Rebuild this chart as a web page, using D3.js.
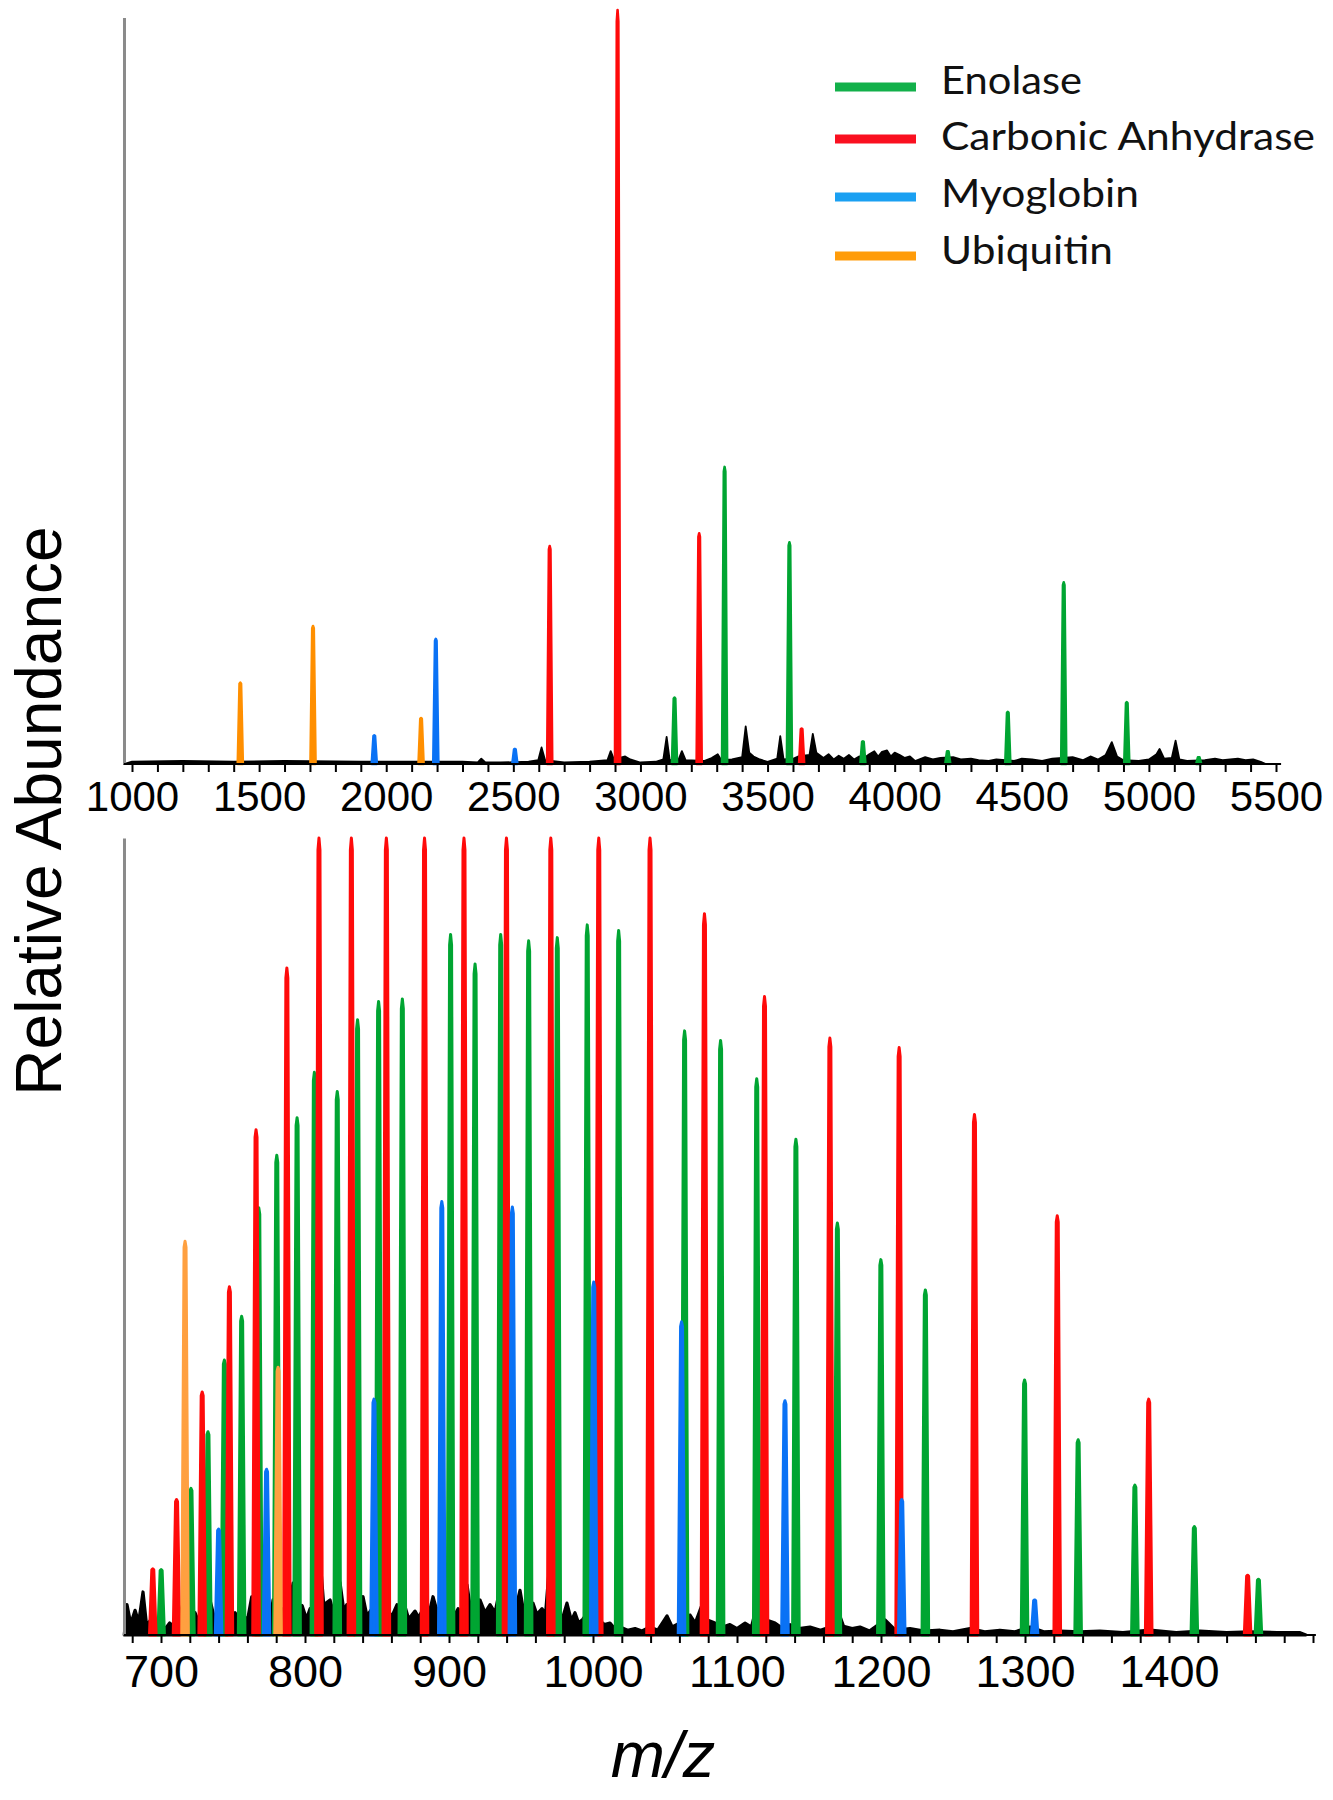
<!DOCTYPE html>
<html>
<head>
<meta charset="utf-8">
<script src="https://cdn.jsdelivr.net/npm/d3@7"></script>
<style>
  html, body { margin: 0; padding: 0; background: #fff; }
  svg { display: block; }
</style>
</head>
<body>
<svg id="chart" width="1333" height="1800"></svg>
<script>
// ---------------- DATA ----------------
const legendNames = ["Enolase", "Carbonic Anhydrase", "Myoglobin", "Ubiquitin"];
const topTickLabels = [1000, 1500, 2000, 2500, 3000, 3500, 4000, 4500, 5000, 5500];
const bottomTickLabels = [700, 800, 900, 1000, 1100, 1200, 1300, 1400];

// Top panel peaks: [m/z, relative abundance %]
const enolaseTop   = [[3134, 8.8], [3331, 39.4], [3586, 29.4], [3875, 3.0], [4209, 1.7], [4445, 6.9], [4665, 24.1], [4913, 8.2], [5196, 0.9]];
const carbonicTop  = [[2643, 28.9], [2910, 100], [3231, 30.6], [3634, 4.7]];
const myoglobinTop = [[1953, 3.8], [2195, 16.6], [2506, 2.0]];
const ubiquitinTop = [[1426, 10.8], [1712, 18.3], [2137, 6.1]];
const noiseTop = [
  [968, 0], [1000, 0.3], [1200, 0.4], [1400, 0.3], [1600, 0.4], [1900, 0.3], [2100, 0.3], [2300, 0.3],
  [2360, 0.2], [2374, 0.7], [2390, 0.2], [2450, 0.2], [2560, 0.3], [2598, 0.5], [2611, 2.2], [2625, 0.5],
  [2700, 0.2], [2800, 0.3], [2870, 0.5], [2883, 1.7], [2896, 0.6], [2940, 1.0], [2960, 0.6], [3000, 0.2],
  [3060, 0.3], [3090, 0.6], [3103, 3.6], [3115, 0.5], [3150, 0.6], [3163, 1.7], [3178, 0.5], [3250, 0.4],
  [3280, 0.8], [3304, 1.3], [3318, 0.5], [3360, 0.6], [3400, 0.9], [3414, 5.0], [3428, 1.5], [3445, 1.0],
  [3470, 0.6], [3500, 0.3], [3538, 0.7], [3550, 3.7], [3563, 0.6], [3600, 0.7], [3620, 1.0], [3665, 1.2],
  [3678, 4.0], [3692, 1.5], [3720, 0.8], [3740, 1.3], [3760, 0.6], [3780, 1.1], [3800, 0.7], [3820, 1.2],
  [3840, 0.6], [3860, 1.0], [3880, 0.8], [3900, 1.3], [3920, 1.7], [3935, 1.0], [3950, 1.6], [3970, 1.8],
  [3985, 1.0], [4000, 1.5], [4020, 1.2], [4040, 0.8], [4060, 1.0], [4080, 0.4], [4120, 0.9], [4150, 0.6],
  [4180, 0.8], [4230, 0.9], [4260, 0.6], [4300, 0.7], [4330, 0.5], [4370, 0.4], [4400, 0.6], [4470, 0.4],
  [4500, 0.7], [4540, 0.6], [4580, 0.4], [4620, 0.7], [4700, 0.9], [4740, 0.5], [4770, 1.0], [4800, 0.6],
  [4830, 1.2], [4854, 2.9], [4875, 1.0], [4900, 0.5], [4960, 0.4], [5000, 0.6], [5030, 1.3], [5042, 2.0],
  [5060, 0.7], [5090, 0.8], [5105, 3.1], [5120, 0.6], [5150, 0.4], [5220, 0.5], [5260, 0.7], [5290, 0.5],
  [5320, 0.6], [5350, 0.7], [5380, 0.5], [5410, 0.6], [5440, 0.3], [5460, 0]
];

// Bottom panel peaks: [m/z, relative abundance %] (100 = off scale)
const enolaseBottom = [
  [700.1, 8.2], [720.8, 18.4], [732.6, 25.5], [744.0, 34.5], [756.0, 40.0], [767.9, 53.6], [780.4, 60.2],
  [794.5, 64.9], [806.5, 70.6], [822.4, 68.2], [836.5, 77.2], [851.1, 79.5], [867.6, 79.8], [901.1, 87.9],
  [918.1, 84.2], [935.9, 87.9], [955.3, 87.1], [975.2, 87.5], [996.0, 89.1], [1017.8, 88.4], [1063.6, 75.8],
  [1088.6, 74.6], [1113.7, 69.8], [1140.9, 62.2], [1169.7, 51.7], [1199.9, 47.1], [1230.8, 43.3],
  [1299.7, 32.0], [1336.9, 24.5], [1376.3, 18.8], [1417.6, 13.6], [1462.1, 7.0]
];
const carbonicBottom = [
  [694.3, 8.3], [710.8, 17.0], [728.6, 30.5], [747.5, 43.7], [766.0, 63.4], [787.4, 83.7], [809.7, 100],
  [832.2, 100], [856.5, 100], [883.0, 100], [910.4, 100], [939.9, 100], [970.7, 100], [1004.0, 100],
  [1039.6, 100], [1077.4, 90.5], [1119.1, 80.1], [1164.5, 74.9], [1212.6, 73.7], [1264.9, 65.3],
  [1322.4, 52.6], [1385.9, 29.6], [1454.6, 7.5]
];
const myoglobinBottom = [
  [740.0, 13.3], [773.3, 20.8], [847.9, 29.6], [895.0, 54.4], [944.0, 53.7], [1000.5, 44.3],
  [1061.5, 39.3], [1133.3, 29.4], [1214.4, 17.0], [1306.7, 4.4]
];
const ubiquitinBottom = [[716.7, 49.4], [781.3, 33.6]];
const noiseBottom = [
  [674.5, 0], [676.4, 3.8], [679, 1.4], [682, 3.1], [684.5, 1.6], [687.5, 5.4], [690, 1.2], [692.4, 1.8],
  [695, 0.9], [699.3, 1.6], [703, 0.8], [706, 1.5], [709, 1.0], [711.8, 4.0], [715, 1.8], [718, 4.4],
  [721, 2.1], [723.6, 2.8], [726, 1.7], [729, 3.0], [731.5, 1.9], [734, 4.4], [737, 2.2], [739.6, 2.8],
  [742.5, 1.8], [745.8, 5.6], [748.5, 2.3], [751.4, 2.8], [754, 2.0], [757, 2.6], [760, 1.8], [763, 4.8],
  [766, 2.4], [768.8, 4.4], [771, 2.2], [773.6, 3.3], [776, 2.0], [777.8, 4.4], [781, 2.6], [784, 3.3],
  [788, 2.8], [791.7, 6.5], [795, 2.8], [798, 3.7], [801, 2.0], [803.5, 3.3], [807, 2.3], [810.4, 9.7],
  [813, 3.8], [817.4, 4.4], [820, 2.6], [824.3, 6.6], [827, 3.0], [829, 3.8], [831, 3.1], [833.3, 8.2],
  [836, 3.1], [840.3, 4.8], [843, 2.4], [846.5, 3.3], [849, 2.0], [852, 2.8], [855, 1.8], [857.6, 3.3],
  [860, 2.2], [863.9, 3.8], [866, 2.4], [869.4, 3.6], [872, 2.0], [876.4, 3.0], [879, 2.2], [883.3, 3.8],
  [886, 2.6], [888.9, 4.8], [892, 2.8], [895.8, 4.8], [898, 2.6], [900.7, 3.6], [903, 2.2], [906.3, 3.3],
  [909, 2.6], [912.5, 6.3], [915, 3.2], [916.7, 3.8], [919, 2.6], [921.5, 4.4], [925, 2.8], [928.5, 3.8],
  [932, 2.8], [935.4, 5.9], [938, 3.0], [942.4, 3.6], [945, 2.3], [949.3, 5.6], [952, 2.8], [954.2, 3.3],
  [958.3, 4.0], [961, 2.6], [964.6, 3.3], [967, 2.6], [970.1, 9.5], [973, 3.8], [975.7, 2.9], [979, 2.2],
  [981.9, 4.0], [985, 1.8], [987.5, 2.8], [990, 1.5], [993, 2.0], [995.5, 2.6], [997.9, 9.5], [1001, 3.1],
  [1004.9, 1.8], [1008, 1.3], [1011.8, 1.5], [1015, 0.8], [1018.8, 1.0], [1024, 0.6], [1029.2, 0.8],
  [1034, 0.5], [1039.6, 1.0], [1045, 0.6], [1051.4, 2.4], [1055, 1.0], [1060.4, 1.5], [1064, 1.0],
  [1067.4, 2.5], [1071, 1.5], [1075.7, 3.8], [1079, 1.9], [1084.7, 1.5], [1090, 1.0], [1095.1, 1.3],
  [1100, 0.8], [1105.6, 1.5], [1110, 1.0], [1116.7, 5.8], [1120, 1.9], [1126.4, 1.5], [1131, 0.9],
  [1136.8, 1.3], [1143, 0.8], [1150.7, 1.0], [1158, 0.6], [1163, 0.9], [1169.4, 3.4], [1174, 1.1],
  [1180, 0.8], [1185.4, 1.0], [1192, 0.5], [1202.8, 1.9], [1210, 0.6], [1220.1, 0.8], [1230, 0.5],
  [1241, 0.6], [1250, 0.4], [1261.8, 0.8], [1272, 0.4], [1282.6, 0.6], [1293, 0.4], [1303.5, 1.0],
  [1313, 0.4], [1324.3, 0.5], [1338, 0.4], [1352, 0.5], [1368, 0.3], [1386.8, 0.6], [1405, 0.3],
  [1421.5, 0.5], [1440, 0.3], [1456.3, 0.4], [1475, 0.3], [1491, 0.3], [1495, 0]
];

// ---------------- STYLE ----------------
const specColors   = ["#00a532", "#ff0a0a", "#0a72f5", "#ff8f00"];
const bottomColors = ["#00a532", "#ff0a0a", "#0a72f5", "#ffa040"];
const legendColors = ["#12b04a", "#fa1020", "#1aa0f2", "#ff9c0a"];
const numFont = "'Liberation Sans', Arial, sans-serif";

const svg = d3.select("#chart");
svg.append("rect").attr("width", 1333).attr("height", 1800).attr("fill", "#fff");

// ---------------- SCALES ----------------
const xT = d3.scaleLinear().domain([1000, 5500]).range([132, 1276]);
const yT = d3.scaleLinear().domain([0, 100]).range([764, 10]);
const xB = d3.scaleLinear().domain([700, 1400]).range([161, 1169]);
const yB = d3.scaleLinear().domain([0, 100]).range([1635, 838]);

function peakShape(p, hw) {
  const [m, v] = p;
  return [[m - hw, 0], [m - hw * 0.3, v * 0.985], [m, v], [m + hw * 0.3, v * 0.985], [m + hw, 0]];
}

function drawPanel(g, x, y, series, colors, noise, hw, sw, nsw) {
  const area = d3.area().x(d => x(d[0])).y0(y(0)).y1(d => y(d[1])).curve(d3.curveLinear);
  g.append("path").datum(noise)
    .attr("d", area)
    .attr("fill", "#000").attr("stroke", "#000").attr("stroke-width", nsw)
    .attr("stroke-linejoin", "round");
  series.forEach((s, i) => {
    g.append("g").selectAll("path").data(s).join("path")
      .attr("d", d => area(peakShape(d, hw)))
      .attr("fill", colors[i]).attr("stroke", colors[i])
      .attr("stroke-width", sw).attr("stroke-linejoin", "round");
  });
}

// ---------------- TOP PANEL ----------------
const gTop = svg.append("g");
drawPanel(gTop, xT, yT, [enolaseTop, carbonicTop, myoglobinTop, ubiquitinTop], specColors, noiseTop, 10, 2.6, 1.8);

gTop.append("g").attr("transform", `translate(${xT(968.5)},0)`)
  .call(d3.axisLeft(d3.scaleLinear().domain([0, 99]).range([yT(0), yT(99)])).tickValues([]).tickSizeOuter(0))
  .select(".domain").attr("stroke", "#8a8a8a").attr("stroke-width", 3);

const axT = gTop.append("g").attr("transform", `translate(0,${yT(0)})`)
  .call(d3.axisBottom(xT).tickValues(d3.range(1000, 5501, 100)).tickSize(8).tickPadding(9)
    .tickFormat(d => topTickLabels.includes(d) ? d : ""));
axT.select(".domain").remove();
axT.selectAll(".tick line").attr("stroke", "#000").attr("stroke-width", 2);
axT.selectAll(".tick text").attr("font-family", numFont).attr("font-size", 42).attr("fill", "#000");
gTop.append("line")
  .attr("x1", xT(968.5)).attr("x2", xT(5520)).attr("y1", yT(0)).attr("y2", yT(0))
  .attr("stroke", "#000").attr("stroke-width", 2.2);

// ---------------- BOTTOM PANEL ----------------
const gBot = svg.append("g");
drawPanel(gBot, xB, yB, [enolaseBottom, carbonicBottom, myoglobinBottom, ubiquitinBottom], bottomColors, noiseBottom, 2.3, 3, 3.2);

gBot.append("g").attr("transform", `translate(${xB(674.3)},0)`)
  .call(d3.axisLeft(yB).tickValues([]).tickSizeOuter(0))
  .select(".domain").attr("stroke", "#8a8a8a").attr("stroke-width", 3);

const axB = gBot.append("g").attr("transform", `translate(0,${yB(0)})`)
  .call(d3.axisBottom(xB).tickValues(d3.range(680, 1501, 20)).tickSize(8).tickPadding(12)
    .tickFormat(d => bottomTickLabels.includes(d) ? d : ""));
axB.select(".domain").remove();
axB.selectAll(".tick line").attr("stroke", "#000").attr("stroke-width", 2);
axB.selectAll(".tick text").attr("font-family", numFont).attr("font-size", 45).attr("fill", "#000");
gBot.append("line")
  .attr("x1", xB(674.3)).attr("x2", xB(1502)).attr("y1", yB(0)).attr("y2", yB(0))
  .attr("stroke", "#000").attr("stroke-width", 2.2);

// ---------------- LABELS ----------------
svg.append("text")
  .attr("transform", "translate(61,811) rotate(-90)")
  .attr("text-anchor", "middle")
  .attr("font-family", numFont).attr("font-size", 64).attr("fill", "#000")
  .text("Relative Abundance");

svg.append("text")
  .attr("x", 663).attr("y", 1777)
  .attr("text-anchor", "middle")
  .attr("font-family", numFont).attr("font-size", 65).attr("font-style", "italic").attr("fill", "#000")
  .text("m/z");

// ---------------- LEGEND ----------------
const legendY = [87, 139, 197, 256];
const legendBase = [94, 150, 207, 264];
const legendW = [141, 374, 198, 172];
const leg = svg.append("g");
legendNames.forEach((name, i) => {
  leg.append("line")
    .attr("x1", 835).attr("x2", 916).attr("y1", legendY[i]).attr("y2", legendY[i])
    .attr("stroke", legendColors[i]).attr("stroke-width", 9);
  leg.append("text")
    .attr("x", 941).attr("y", legendBase[i])
    .attr("font-family", "Lato, 'Open Sans', sans-serif").attr("font-size", 38).attr("fill", "#111")
    .attr("textLength", legendW[i]).attr("lengthAdjust", "spacingAndGlyphs")
    .text(name);
});
</script>
</body>
</html>
